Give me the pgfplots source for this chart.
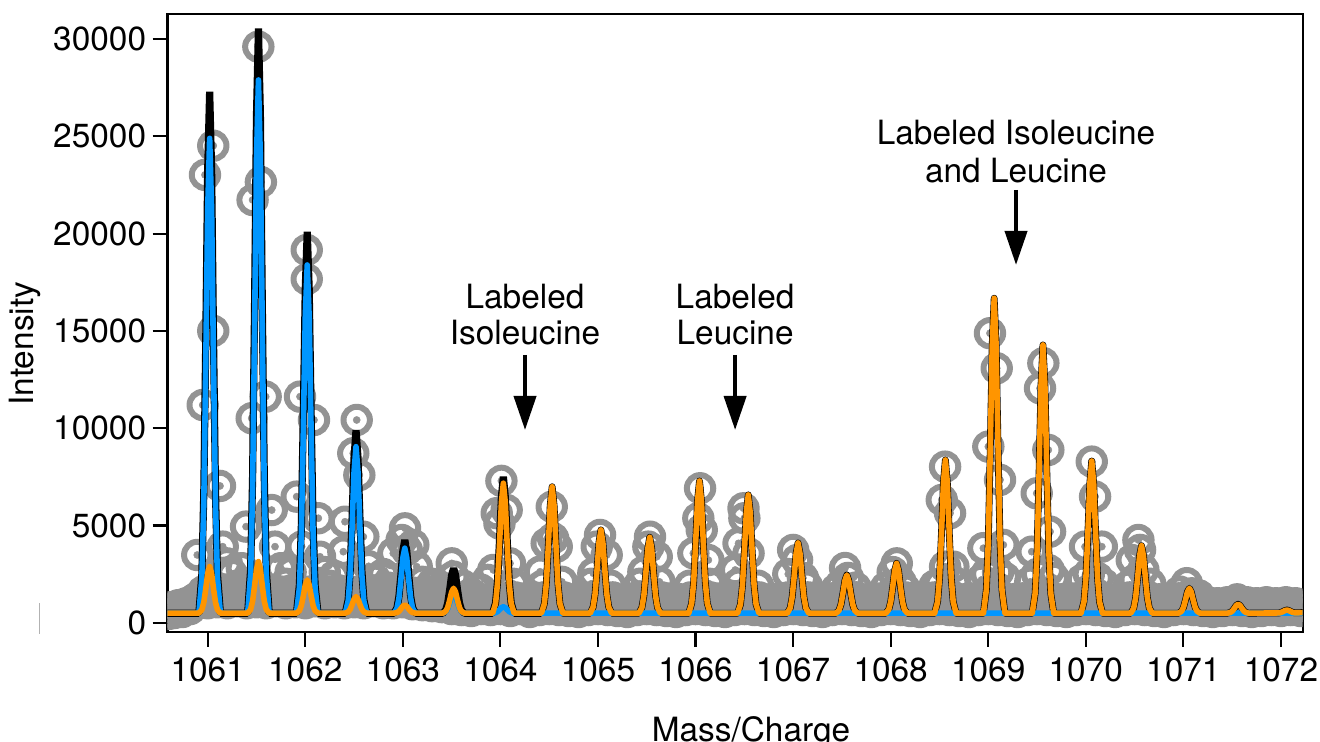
\documentclass[border=0pt]{standalone}
\usepackage{fontspec}
\setmainfont{TeX Gyre Heros}
\usepackage{pgfplots}
\usepackage{pgfplotstable}
\pgfplotsset{compat=1.18}
\usetikzlibrary{arrows.meta}

\definecolor{ptgray}{RGB}{147,147,147}
\definecolor{fitblue}{RGB}{0,150,255}
\definecolor{fitorange}{RGB}{255,149,0}

% measured points (open circles)
\pgfplotstableread[row sep=\\]{
x y \\
1060.60 450 \\ 1060.63 800 \\ 1060.66 500 \\ 1060.70 900 \\ 1060.74 550 \\ 1060.78 1000 \\ 1060.82 700 \\
1060.852 1170 \\ 1060.893 3480 \\ 1060.949 11190 \\ 1060.972 23020 \\ 1061.057 24520 \\ 1061.057 15000 \\
1061.126 7030 \\ 1061.154 3910 \\ 1061.195 3050 \\
1061.519 29610 \\ 1061.545 22650 \\ 1061.460 21730 \\ 1061.594 11620 \\ 1061.451 10510 \\ 1061.656 5790 \\
1061.393 4940 \\ 1061.690 3910 \\
1062.015 19160 \\ 1062.015 17660 \\ 1061.946 11620 \\ 1062.089 10420 \\ 1061.912 6480 \\ 1062.134 5370 \\
1061.963 3910 \\ 1062.151 3390 \\
1062.527 10420 \\ 1062.492 8710 \\ 1062.554 7590 \\ 1062.407 5190 \\ 1062.595 4420 \\ 1062.390 3650 \\
1063.022 4850 \\ 1062.988 4250 \\ 1063.040 3740 \\ 1062.902 3570 \\ 1063.142 2880 \\ 1063.107 4000 \\
1063.501 3050 \\ 1063.517 2370 \\
1061.25 2500 \\ 1061.30 1900 \\ 1061.35 2800 \\ 1061.75 2800 \\ 1061.80 2000 \\ 1061.85 2600 \\
1062.20 2600 \\ 1062.25 1900 \\ 1062.30 2400 \\ 1062.65 2900 \\ 1062.72 2200 \\ 1062.80 2500 \\
1062.85 1800 \\ 1063.20 2100 \\ 1063.25 1600 \\ 1063.30 2000 \\ 1063.40 1800 \\ 1063.62 1900 \\
1063.70 1500 \\ 1063.80 1700 \\ 1063.87 2200 \\
1064.010 7290 \\ 1064.064 5790 \\ 1063.962 5630 \\ 1063.990 5100 \\ 1063.927 2710 \\ 1064.098 3050 \\
1064.526 5960 \\ 1064.540 4340 \\ 1064.474 4080 \\ 1064.577 3910 \\ 1064.406 2620 \\
1065.021 4510 \\ 1064.987 3910 \\ 1065.089 3480 \\ 1064.952 2540 \\
1065.533 4420 \\ 1065.516 3910 \\ 1065.602 3390 \\ 1065.465 2620 \\
1066.046 6910 \\ 1066.028 5370 \\ 1066.063 4770 \\ 1065.977 3570 \\ 1066.131 3220 \\
1066.491 5880 \\ 1066.500 5370 \\ 1066.440 4080 \\ 1066.543 3570 \\ 1066.406 2710 \\
1067.000 3740 \\ 1067.040 3220 \\ 1066.950 2500 \\ 1067.100 2300 \\
1067.532 2810 \\ 1067.562 2300 \\ 1067.480 1900 \\
1068.062 3050 \\ 1068.020 2600 \\ 1068.100 2100 \\
1068.557 8020 \\ 1068.523 6310 \\ 1068.608 5630 \\ 1068.557 2880 \\ 1068.642 2880 \\ 1068.500 2000 \\
1069.017 14880 \\ 1069.086 13080 \\ 1069.000 9050 \\ 1069.120 7340 \\ 1068.949 3830 \\ 1069.154 4000 \\
1068.980 2500 \\ 1069.100 2600 \\
1069.564 13340 \\ 1069.530 12050 \\ 1069.615 8880 \\ 1069.496 6650 \\ 1069.633 4680 \\ 1069.445 3650 \\
1069.500 2500 \\ 1069.620 2700 \\
1070.060 8280 \\ 1070.094 6480 \\ 1069.991 3910 \\ 1070.163 3910 \\ 1070.030 2500 \\ 1070.120 2300 \\
1070.538 4250 \\ 1070.555 3740 \\ 1070.470 3220 \\ 1070.589 2710 \\ 1070.500 2200 \\
1071.034 2030 \\ 1071.085 1510 \\
1064.13 2000 \\ 1064.43 1900 \\ 1064.63 2100 \\ 1064.93 2000 \\ 1065.13 1900 \\ 1065.43 2000 \\
1065.63 2100 \\ 1065.94 1900 \\ 1066.14 2000 \\ 1066.44 2000 \\ 1066.64 1900 \\ 1067.14 1900 \\
1067.44 1700 \\ 1067.64 1800 \\ 1067.95 1800 \\ 1068.15 1700 \\ 1068.45 1900 \\ 1068.65 2100 \\
1068.93 2200 \\ 1069.17 2300 \\ 1069.43 2100 \\ 1069.67 2300 \\ 1069.96 2200 \\ 1070.18 2000 \\
1070.44 1900 \\ 1070.66 2000 \\ 1070.96 1600 \\ 1071.16 1400 \\
1060.90 1000 \\ 1060.95 1600 \\ 1061.00 1000 \\ 1061.05 1500 \\ 1061.10 1050 \\ 1061.15 1650 \\
1061.20 1000 \\ 1061.25 1600 \\ 1061.30 1100 \\ 1061.35 1700 \\ 1061.40 1000 \\ 1061.45 1500 \\
1061.50 1050 \\ 1061.55 1600 \\ 1061.60 1000 \\ 1061.65 1700 \\ 1061.70 1100 \\ 1061.75 1600 \\
1061.80 1000 \\ 1061.85 1650 \\ 1061.90 1050 \\ 1061.95 1500 \\ 1062.00 1000 \\ 1062.05 1600 \\
1062.10 1100 \\ 1062.15 1700 \\ 1062.20 1000 \\ 1062.25 1600 \\ 1062.30 1050 \\ 1062.35 1650 \\
1062.40 1000 \\ 1062.45 1500 \\ 1062.50 1050 \\ 1062.55 1600 \\ 1062.60 1000 \\ 1062.65 1700 \\
1062.70 1100 \\ 1062.75 1600 \\ 1062.80 1000 \\ 1062.85 1550 \\ 1062.90 1000 \\ 1062.95 1500 \\
1063.00 1050 \\ 1063.05 1500 \\ 1063.10 950 \\ 1063.15 1450 \\ 1063.20 900 \\ 1063.25 1400 \\
1063.30 850 \\ 1063.35 1400 \\ 1063.40 800 \\ 1063.45 1350 \\
1063.50 700 \\ 1063.55 1300 \\ 1063.60 650 \\ 1063.65 1250 \\ 1063.70 600 \\ 1063.75 1300 \\
1063.80 700 \\ 1063.85 1200 \\ 1063.90 650 \\ 1063.95 1300 \\ 1064.00 700 \\ 1064.05 1250 \\
1064.10 600 \\ 1064.15 1300 \\ 1064.20 700 \\ 1064.25 1250 \\ 1064.30 550 \\ 1064.35 1200 \\
1064.40 650 \\ 1064.45 1300 \\ 1064.50 700 \\ 1064.55 1250 \\ 1064.60 650 \\ 1064.65 1300 \\
1064.70 600 \\ 1064.75 1200 \\ 1064.80 550 \\ 1064.85 1250 \\ 1064.90 650 \\ 1064.95 1300 \\
1065.00 700 \\ 1065.05 1250 \\ 1065.10 650 \\ 1065.15 1300 \\ 1065.20 600 \\ 1065.25 1200 \\
1065.30 550 \\ 1065.35 1250 \\ 1065.40 650 \\ 1065.45 1300 \\ 1065.50 700 \\ 1065.55 1250 \\
1065.60 650 \\ 1065.65 1300 \\ 1065.70 600 \\ 1065.75 1250 \\ 1065.80 550 \\ 1065.85 1200 \\
1065.90 650 \\ 1065.95 1300 \\ 1066.00 700 \\ 1066.05 1250 \\ 1066.10 650 \\ 1066.15 1300 \\
1066.20 600 \\ 1066.25 1250 \\ 1066.30 550 \\ 1066.35 1200 \\ 1066.40 650 \\ 1066.45 1300 \\
1066.50 700 \\ 1066.55 1250 \\ 1066.60 650 \\ 1066.65 1300 \\ 1066.70 600 \\ 1066.75 1200 \\
1066.80 550 \\ 1066.85 1250 \\ 1066.90 650 \\ 1066.95 1300 \\ 1067.00 700 \\ 1067.05 1250 \\
1067.10 650 \\ 1067.15 1300 \\ 1067.20 600 \\ 1067.25 1200 \\ 1067.30 550 \\ 1067.35 1250 \\
1067.40 650 \\ 1067.45 1300 \\ 1067.50 700 \\ 1067.55 1250 \\ 1067.60 650 \\ 1067.65 1300 \\
1067.70 600 \\ 1067.75 1200 \\ 1067.80 550 \\ 1067.85 1250 \\ 1067.90 650 \\ 1067.95 1300 \\
1068.00 700 \\ 1068.05 1250 \\ 1068.10 650 \\ 1068.15 1300 \\ 1068.20 600 \\ 1068.25 1200 \\
1068.30 550 \\ 1068.35 1250 \\ 1068.40 650 \\ 1068.45 1300 \\ 1068.50 700 \\ 1068.55 1250 \\
1068.60 650 \\ 1068.65 1300 \\ 1068.70 600 \\ 1068.75 1200 \\ 1068.80 550 \\ 1068.85 1250 \\
1068.90 650 \\ 1068.95 1300 \\ 1069.00 700 \\ 1069.05 1250 \\ 1069.10 650 \\ 1069.15 1300 \\
1069.20 600 \\ 1069.25 1200 \\ 1069.30 550 \\ 1069.35 1250 \\ 1069.40 650 \\ 1069.45 1300 \\
1069.50 700 \\ 1069.55 1250 \\ 1069.60 650 \\ 1069.65 1300 \\ 1069.70 600 \\ 1069.75 1200 \\
1069.80 550 \\ 1069.85 1250 \\ 1069.90 650 \\ 1069.95 1300 \\ 1070.00 700 \\ 1070.05 1250 \\
1070.10 650 \\ 1070.15 1300 \\ 1070.20 600 \\ 1070.25 1200 \\ 1070.30 550 \\ 1070.35 1250 \\
1070.40 650 \\ 1070.45 1300 \\ 1070.50 700 \\ 1070.55 1250 \\ 1070.60 650 \\ 1070.65 1300 \\
1070.70 600 \\ 1070.75 1200 \\ 1070.80 550 \\ 1070.85 1250 \\ 1070.90 650 \\ 1070.95 1250 \\
1071.00 700 \\ 1071.05 1300 \\ 1071.10 650 \\ 1071.15 1200 \\ 1071.20 600 \\ 1071.25 1050 \\
1071.30 550 \\ 1071.35 1000 \\ 1071.40 600 \\ 1071.45 1050 \\ 1071.50 650 \\ 1071.55 1200 \\
1071.60 600 \\ 1071.65 1050 \\ 1071.70 550 \\ 1071.75 1000 \\ 1071.80 600 \\ 1071.85 1050 \\
1071.90 650 \\ 1071.95 1000 \\ 1072.00 600 \\ 1072.05 1050 \\ 1072.10 650 \\ 1072.15 1000 \\
1072.20 600 \\
1060.875 1250 \\ 1060.925 1350 \\ 1060.975 1250 \\ 1061.025 1350 \\ 1061.075 1250 \\ 1061.125 1350 \\
1061.175 1250 \\ 1061.225 1350 \\ 1061.275 1250 \\ 1061.325 1350 \\ 1061.375 1250 \\ 1061.425 1350 \\
1061.475 1250 \\ 1061.525 1350 \\ 1061.575 1250 \\ 1061.625 1350 \\ 1061.675 1250 \\ 1061.725 1350 \\
1061.775 1250 \\ 1061.825 1350 \\ 1061.875 1250 \\ 1061.925 1350 \\ 1061.975 1250 \\ 1062.025 1350 \\
1062.075 1250 \\ 1062.125 1350 \\ 1062.175 1250 \\ 1062.225 1350 \\ 1062.275 1250 \\ 1062.325 1350 \\
1062.375 1250 \\ 1062.425 1350 \\ 1062.475 1250 \\ 1062.525 1350 \\ 1062.575 1250 \\ 1062.625 1350 \\
1062.675 1250 \\ 1062.725 1350 \\ 1062.775 1250 \\ 1062.825 1350 \\ 1062.875 1250 \\ 1062.925 1300 \\
1062.975 1200 \\ 1063.025 1250 \\ 1063.075 1150 \\ 1063.125 1200 \\ 1063.175 1100 \\ 1063.225 1150 \\
1063.275 1050 \\ 1063.325 1100 \\ 1063.375 1000 \\ 1063.425 1050 \\
1063.475 900 \\ 1063.525 1000 \\ 1063.575 900 \\ 1063.625 1000 \\ 1063.675 900 \\ 1063.725 1000 \\
1063.775 900 \\ 1063.825 1000 \\ 1063.875 900 \\ 1063.925 1000 \\ 1063.975 900 \\ 1064.025 1000 \\
1064.075 900 \\ 1064.125 1000 \\ 1064.175 900 \\ 1064.225 1000 \\ 1064.275 900 \\ 1064.325 1000 \\
1064.375 900 \\ 1064.425 1000 \\ 1064.475 900 \\ 1064.525 1000 \\ 1064.575 900 \\ 1064.625 1000 \\
1064.675 900 \\ 1064.725 1000 \\ 1064.775 900 \\ 1064.825 1000 \\ 1064.875 900 \\ 1064.925 1000 \\
1064.975 900 \\ 1065.025 1000 \\ 1065.075 900 \\ 1065.125 1000 \\ 1065.175 900 \\ 1065.225 1000 \\
1065.275 900 \\ 1065.325 1000 \\ 1065.375 900 \\ 1065.425 1000 \\ 1065.475 900 \\ 1065.525 1000 \\
1065.575 900 \\ 1065.625 1000 \\ 1065.675 900 \\ 1065.725 1000 \\ 1065.775 900 \\ 1065.825 1000 \\
1065.875 900 \\ 1065.925 1000 \\ 1065.975 900 \\ 1066.025 1000 \\ 1066.075 900 \\ 1066.125 1000 \\
1066.175 900 \\ 1066.225 1000 \\ 1066.275 900 \\ 1066.325 1000 \\ 1066.375 900 \\ 1066.425 1000 \\
1066.475 900 \\ 1066.525 1000 \\ 1066.575 900 \\ 1066.625 1000 \\ 1066.675 900 \\ 1066.725 1000 \\
1066.775 900 \\ 1066.825 1000 \\ 1066.875 900 \\ 1066.925 1000 \\ 1066.975 900 \\ 1067.025 1000 \\
1067.075 900 \\ 1067.125 1000 \\ 1067.175 900 \\ 1067.225 1000 \\ 1067.275 900 \\ 1067.325 1000 \\
1067.375 900 \\ 1067.425 1000 \\ 1067.475 900 \\ 1067.525 1000 \\ 1067.575 900 \\ 1067.625 1000 \\
1067.675 900 \\ 1067.725 1000 \\ 1067.775 900 \\ 1067.825 1000 \\ 1067.875 900 \\ 1067.925 1000 \\
1067.975 900 \\ 1068.025 1000 \\ 1068.075 900 \\ 1068.125 1000 \\ 1068.175 900 \\ 1068.225 1000 \\
1068.275 900 \\ 1068.325 1000 \\ 1068.375 900 \\ 1068.425 1000 \\ 1068.475 900 \\ 1068.525 1000 \\
1068.575 900 \\ 1068.625 1000 \\ 1068.675 900 \\ 1068.725 1000 \\ 1068.775 900 \\ 1068.825 1000 \\
1068.875 900 \\ 1068.925 1000 \\ 1068.975 900 \\ 1069.025 1000 \\ 1069.075 900 \\ 1069.125 1000 \\
1069.175 900 \\ 1069.225 1000 \\ 1069.275 900 \\ 1069.325 1000 \\ 1069.375 900 \\ 1069.425 1000 \\
1069.475 900 \\ 1069.525 1000 \\ 1069.575 900 \\ 1069.625 1000 \\ 1069.675 900 \\ 1069.725 1000 \\
1069.775 900 \\ 1069.825 1000 \\ 1069.875 900 \\ 1069.925 1000 \\ 1069.975 900 \\ 1070.025 1000 \\
1070.075 900 \\ 1070.125 1000 \\ 1070.175 900 \\ 1070.225 1000 \\ 1070.275 900 \\ 1070.325 1000 \\
1070.375 900 \\ 1070.425 1000 \\ 1070.475 900 \\ 1070.525 1000 \\ 1070.575 900 \\ 1070.625 1000 \\
1070.675 900 \\ 1070.725 1000 \\ 1070.775 900 \\ 1070.825 1000 \\ 1070.875 900 \\ 1070.925 1000 \\
1070.975 900 \\ 1071.025 900 \\ 1071.075 950 \\ 1071.125 850 \\ 1071.175 900 \\ 1071.225 800 \\
1071.275 850 \\ 1071.325 800 \\ 1071.375 850 \\ 1071.425 800 \\ 1071.475 850 \\ 1071.525 850 \\
1071.575 950 \\ 1071.625 850 \\ 1071.675 900 \\ 1071.725 800 \\ 1071.775 850 \\ 1071.825 800 \\
1071.875 850 \\ 1071.925 800 \\ 1071.975 850 \\ 1072.025 800 \\ 1072.075 850 \\ 1072.125 800 \\
1072.175 850 \\
}\graydata

% blue component
\pgfplotstableread[row sep=\\]{
x y \\
1060.588 490 \\
1060.91 490 \\ 1060.94 2296 \\ 1060.96 6104 \\ 1060.98 13183 \\ 1061.00 21239 \\ 1061.02 24900 \\ 1061.04 21239 \\ 1061.06 13183 \\ 1061.08 6104 \\ 1061.10 2296 \\ 1061.13 490 \\
1061.41 490 \\ 1061.44 2518 \\ 1061.46 6794 \\ 1061.48 14743 \\ 1061.50 23789 \\ 1061.52 27900 \\ 1061.54 23789 \\ 1061.56 14743 \\ 1061.58 6794 \\ 1061.60 2518 \\ 1061.63 490 \\
1061.91 490 \\ 1061.94 1815 \\ 1061.96 4607 \\ 1061.98 9798 \\ 1062.00 15705 \\ 1062.02 18390 \\ 1062.04 15705 \\ 1062.06 9798 \\ 1062.08 4607 \\ 1062.10 1815 \\ 1062.13 490 \\
1062.41 490 \\ 1062.44 1123 \\ 1062.46 2459 \\ 1062.48 4941 \\ 1062.50 7766 \\ 1062.52 9050 \\ 1062.54 7766 \\ 1062.56 4941 \\ 1062.58 2459 \\ 1062.60 1123 \\ 1062.63 490 \\
1062.91 490 \\ 1062.94 737 \\ 1062.96 1258 \\ 1062.98 2227 \\ 1063.00 3329 \\ 1063.02 3830 \\ 1063.04 3329 \\ 1063.06 2227 \\ 1063.08 1258 \\ 1063.10 737 \\ 1063.13 490 \\
1063.41 490 \\ 1063.44 566 \\ 1063.46 726 \\ 1063.48 1023 \\ 1063.50 1361 \\ 1063.52 1515 \\ 1063.54 1361 \\ 1063.56 1023 \\ 1063.58 726 \\ 1063.60 566 \\ 1063.63 490 \\
1063.92 490 \\ 1063.95 514 \\ 1063.97 566 \\ 1063.99 662 \\ 1064.01 771 \\ 1064.03 820 \\ 1064.05 771 \\ 1064.07 662 \\ 1064.09 566 \\ 1064.11 514 \\ 1064.14 490 \\
1072.222 490 \\
}\bluedata

% orange component
\pgfplotstableread[row sep=\\]{
x y \\
1060.588 490 \\
1060.91 490 \\ 1060.94 667 \\ 1060.96 1040 \\ 1060.98 1733 \\ 1061.00 2522 \\ 1061.02 2880 \\ 1061.04 2522 \\ 1061.06 1733 \\ 1061.08 1040 \\ 1061.10 667 \\ 1061.13 490 \\
1061.41 490 \\ 1061.44 686 \\ 1061.46 1100 \\ 1061.48 1868 \\ 1061.50 2743 \\ 1061.52 3140 \\ 1061.54 2743 \\ 1061.56 1868 \\ 1061.58 1100 \\ 1061.60 686 \\ 1061.63 490 \\
1061.91 490 \\ 1061.94 617 \\ 1061.96 883 \\ 1061.98 1379 \\ 1062.00 1944 \\ 1062.02 2200 \\ 1062.04 1944 \\ 1062.06 1379 \\ 1062.08 883 \\ 1062.10 617 \\ 1062.13 490 \\
1062.41 490 \\ 1062.44 553 \\ 1062.46 686 \\ 1062.48 932 \\ 1062.50 1213 \\ 1062.52 1340 \\ 1062.54 1213 \\ 1062.56 932 \\ 1062.58 686 \\ 1062.60 553 \\ 1062.63 490 \\
1062.91 490 \\ 1062.94 521 \\ 1062.96 587 \\ 1062.98 708 \\ 1063.00 847 \\ 1063.02 910 \\ 1063.04 847 \\ 1063.06 708 \\ 1063.08 587 \\ 1063.10 521 \\ 1063.13 490 \\
1063.41 490 \\ 1063.44 585 \\ 1063.46 784 \\ 1063.48 1156 \\ 1063.50 1578 \\ 1063.52 1770 \\ 1063.54 1578 \\ 1063.56 1156 \\ 1063.58 784 \\ 1063.60 585 \\ 1063.63 490 \\
1063.92 490 \\ 1063.95 984 \\ 1063.97 2026 \\ 1063.99 3964 \\ 1064.01 6168 \\ 1064.03 7170 \\ 1064.05 6168 \\ 1064.07 3964 \\ 1064.09 2026 \\ 1064.11 984 \\ 1064.14 490 \\
1064.42 490 \\ 1064.45 971 \\ 1064.47 1985 \\ 1064.49 3870 \\ 1064.51 6015 \\ 1064.53 6990 \\ 1064.55 6015 \\ 1064.57 3870 \\ 1064.59 1985 \\ 1064.61 971 \\ 1064.64 490 \\
1064.92 490 \\ 1064.95 807 \\ 1064.97 1474 \\ 1064.99 2716 \\ 1065.01 4128 \\ 1065.03 4770 \\ 1065.05 4128 \\ 1065.07 2716 \\ 1065.09 1474 \\ 1065.11 807 \\ 1065.14 490 \\
1065.42 490 \\ 1065.45 779 \\ 1065.47 1387 \\ 1065.49 2518 \\ 1065.51 3805 \\ 1065.53 4390 \\ 1065.55 3805 \\ 1065.57 2518 \\ 1065.59 1387 \\ 1065.61 779 \\ 1065.64 490 \\
1065.93 490 \\ 1065.96 993 \\ 1065.98 2053 \\ 1066.00 4023 \\ 1066.02 6266 \\ 1066.04 7285 \\ 1066.06 6266 \\ 1066.08 4023 \\ 1066.10 2053 \\ 1066.12 993 \\ 1066.15 490 \\
1066.43 490 \\ 1066.46 940 \\ 1066.48 1888 \\ 1066.50 3652 \\ 1066.52 5658 \\ 1066.54 6570 \\ 1066.56 5658 \\ 1066.58 3652 \\ 1066.60 1888 \\ 1066.62 940 \\ 1066.65 490 \\
1066.94 490 \\ 1066.97 757 \\ 1066.99 1320 \\ 1067.01 2367 \\ 1067.03 3559 \\ 1067.05 4100 \\ 1067.07 3559 \\ 1067.09 2367 \\ 1067.11 1320 \\ 1067.13 757 \\ 1067.16 490 \\
1067.44 490 \\ 1067.47 635 \\ 1067.49 941 \\ 1067.51 1509 \\ 1067.53 2156 \\ 1067.55 2450 \\ 1067.57 2156 \\ 1067.59 1509 \\ 1067.61 941 \\ 1067.63 635 \\ 1067.66 490 \\
1067.95 490 \\ 1067.98 679 \\ 1068.00 1079 \\ 1068.02 1821 \\ 1068.04 2666 \\ 1068.06 3050 \\ 1068.08 2666 \\ 1068.10 1821 \\ 1068.12 1079 \\ 1068.14 679 \\ 1068.17 490 \\
1068.45 490 \\ 1068.48 1073 \\ 1068.50 2301 \\ 1068.52 4585 \\ 1068.54 7184 \\ 1068.56 8365 \\ 1068.58 7184 \\ 1068.60 4585 \\ 1068.62 2301 \\ 1068.64 1073 \\ 1068.67 490 \\
1068.95 490 \\ 1068.98 1688 \\ 1069.00 4214 \\ 1069.02 8909 \\ 1069.04 14252 \\ 1069.06 16680 \\ 1069.08 14252 \\ 1069.10 8909 \\ 1069.12 4214 \\ 1069.14 1688 \\ 1069.17 490 \\
1069.45 490 \\ 1069.48 1510 \\ 1069.50 3662 \\ 1069.52 7661 \\ 1069.54 12212 \\ 1069.56 14280 \\ 1069.58 12212 \\ 1069.60 7661 \\ 1069.62 3662 \\ 1069.64 1510 \\ 1069.67 490 \\
1069.95 490 \\ 1069.98 1069 \\ 1070.00 2289 \\ 1070.02 4556 \\ 1070.04 7137 \\ 1070.06 8310 \\ 1070.08 7137 \\ 1070.10 4556 \\ 1070.12 2289 \\ 1070.14 1069 \\ 1070.17 490 \\
1070.46 490 \\ 1070.49 747 \\ 1070.51 1288 \\ 1070.53 2294 \\ 1070.55 3440 \\ 1070.57 3960 \\ 1070.59 3440 \\ 1070.61 2294 \\ 1070.63 1288 \\ 1070.65 747 \\ 1070.68 490 \\
1070.95 490 \\ 1070.98 585 \\ 1071.00 784 \\ 1071.02 1156 \\ 1071.04 1578 \\ 1071.06 1770 \\ 1071.08 1578 \\ 1071.10 1156 \\ 1071.12 784 \\ 1071.14 585 \\ 1071.17 490 \\
1071.45 490 \\ 1071.48 524 \\ 1071.50 596 \\ 1071.52 729 \\ 1071.54 881 \\ 1071.56 950 \\ 1071.58 881 \\ 1071.60 729 \\ 1071.62 596 \\ 1071.64 524 \\ 1071.67 490 \\
1071.95 500 \\ 1071.98 502 \\ 1072.00 527 \\ 1072.02 573 \\ 1072.04 626 \\ 1072.06 650 \\ 1072.08 626 \\ 1072.10 573 \\ 1072.12 527 \\ 1072.14 510 \\ 1072.17 510 \\
1072.222 520 \\
}\orangedata

% total fit where it differs from the orange component
\pgfplotstableread[row sep=\\]{
x y \\
1060.588 490 \\
1060.91 490 \\ 1060.94 2473 \\ 1060.96 6654 \\ 1060.98 14426 \\ 1061.00 23271 \\ 1061.02 27290 \\ 1061.04 23271 \\ 1061.06 14426 \\ 1061.08 6654 \\ 1061.10 2473 \\ 1061.13 490 \\
1061.41 490 \\ 1061.44 2714 \\ 1061.46 7404 \\ 1061.48 16121 \\ 1061.50 26042 \\ 1061.52 30550 \\ 1061.54 26042 \\ 1061.56 16121 \\ 1061.58 7404 \\ 1061.60 2714 \\ 1061.63 490 \\
1061.91 490 \\ 1061.94 1942 \\ 1061.96 5000 \\ 1061.98 10687 \\ 1062.00 17159 \\ 1062.02 20100 \\ 1062.04 17159 \\ 1062.06 10687 \\ 1062.08 5000 \\ 1062.10 1942 \\ 1062.13 490 \\
1062.41 490 \\ 1062.44 1186 \\ 1062.46 2655 \\ 1062.48 5383 \\ 1062.50 8489 \\ 1062.52 9900 \\ 1062.54 8489 \\ 1062.56 5383 \\ 1062.58 2655 \\ 1062.60 1186 \\ 1062.63 490 \\
1062.91 490 \\ 1062.94 768 \\ 1062.96 1355 \\ 1062.98 2445 \\ 1063.00 3686 \\ 1063.02 4250 \\ 1063.04 3686 \\ 1063.06 2445 \\ 1063.08 1355 \\ 1063.10 768 \\ 1063.13 490 \\
1063.41 490 \\ 1063.44 661 \\ 1063.46 1020 \\ 1063.48 1689 \\ 1063.50 2449 \\ 1063.52 2795 \\ 1063.54 2449 \\ 1063.56 1689 \\ 1063.58 1020 \\ 1063.60 661 \\ 1063.63 490 \\
1063.92 490 \\ 1063.95 1008 \\ 1063.97 2102 \\ 1063.99 4136 \\ 1064.01 6449 \\ 1064.03 7500 \\ 1064.05 6449 \\ 1064.07 4136 \\ 1064.09 2102 \\ 1064.11 1008 \\ 1064.14 490 \\
1064.42 490 \\
}\blackdata

\begin{document}
\begin{tikzpicture}[font=\fontsize{16.7}{20}\selectfont]
\begin{axis}[
    scale only axis,
    width=567.6pt,
    height=308.9pt,
    xmin=1060.588, xmax=1072.222,
    ymin=-463, ymax=31296,
    xtick={1061,1062,...,1072},
    ytick={0,5000,...,30000},
    tick pos=left,
    tick align=outside,
    major tick length=7.5pt,
    every tick/.style={black, line width=1.1pt},
    axis line style={line width=1.1pt},
    clip marker paths=true,
    scaled ticks=false,
    /pgf/number format/1000 sep={},
    /pgf/number format/assume math mode=true,
    tick label style={font=\fontsize{16.7}{20}\selectfont},
    xticklabel style={inner sep=5.5pt},
    yticklabel style={inner sep=3pt},
    xlabel={Mass/Charge},
    ylabel={Intensity},
    label style={font=\fontsize{16.7}{20}\selectfont},
    xlabel style={at={(axis description cs:0.514,0)}, anchor=north, yshift=-42pt, inner sep=0pt},
    ylabel style={at={(axis description cs:-0.1255,0.466)}, anchor=center},
]

% data points
\addplot[ptgray, only marks, mark=o, mark size=6.6pt,
    mark options={draw=ptgray, line width=3pt}] table {\graydata};
\addplot[ptgray, only marks, mark=*, mark size=1.8pt,
    mark options={fill=ptgray, draw=ptgray, line width=0.2pt}] table {\graydata};

% fits
\addplot[black, line width=3.6pt, line join=bevel] table {\blackdata};
\addplot[black, line width=3.4pt, line join=round, restrict x to domain=1064.40:1073] table {\orangedata};
\addplot[fitblue, line width=2.8pt, line join=round] table {\bluedata};
\addplot[fitorange, line width=2.8pt, line join=round] table {\orangedata};

% labels
\node[anchor=base] at (axis cs:1064.252,16128) {Labeled};
\node[anchor=base] at (axis cs:1064.252,14277) {Isoleucine};
\draw[line width=2pt, -{Triangle[length=17pt,width=11pt]}]
    (axis cs:1064.252,13763) -- (axis cs:1064.252,9907);

\node[anchor=base] at (axis cs:1066.405,16128) {Labeled};
\node[anchor=base] at (axis cs:1066.405,14277) {Leucine};
\draw[line width=2pt, -{Triangle[length=17pt,width=11pt]}]
    (axis cs:1066.405,13763) -- (axis cs:1066.405,9907);

\node[anchor=base] at (axis cs:1069.284,24560) {Labeled Isoleucine};
\node[anchor=base] at (axis cs:1069.284,22650) {and Leucine};
\draw[line width=2pt, -{Triangle[length=17pt,width=11pt]}]
    (axis cs:1069.284,22247) -- (axis cs:1069.284,18391);
\end{axis}

\draw[gray!60, line width=0.5pt] (-64.1pt,-1.15pt) -- (-64.1pt,14.35pt);

\pgfresetboundingbox
\path[use as bounding box] (-83.75pt,-55.15pt) rectangle (576.25pt,315.85pt);
\end{tikzpicture}
\end{document}
